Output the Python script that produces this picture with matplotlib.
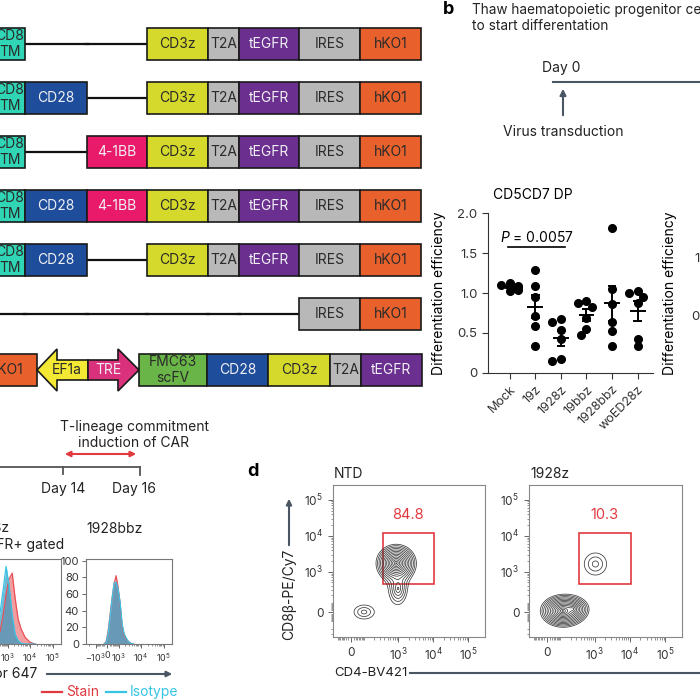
import numpy as np
import matplotlib
matplotlib.use('Agg')
import matplotlib.pyplot as plt
from matplotlib.patches import Rectangle, Polygon

plt.rcParams['font.family'] = ['Inter', 'DejaVu Sans']
plt.rcParams['mathtext.fontset'] = 'custom'
plt.rcParams['mathtext.rm'] = 'Inter'
plt.rcParams['mathtext.it'] = 'Inter:italic'

# ---------------- data ----------------
# panel a: CAR constructs (None = linker line)
constructs = [
    ['CD8\nTM', None, None, 'CD3z', 'T2A', 'tEGFR', 'IRES', 'hKO1'],
    ['CD8\nTM', 'CD28', None, 'CD3z', 'T2A', 'tEGFR', 'IRES', 'hKO1'],
    ['CD8\nTM', None, '4-1BB', 'CD3z', 'T2A', 'tEGFR', 'IRES', 'hKO1'],
    ['CD8\nTM', 'CD28', '4-1BB', 'CD3z', 'T2A', 'tEGFR', 'IRES', 'hKO1'],
    ['CD8\nTM', 'CD28', None, 'CD3z', 'T2A', 'tEGFR', 'IRES', 'hKO1'],
    [None, None, None, None, None, None, 'IRES', 'hKO1'],
]
tet_construct = ['hKO1', 'EF1a', 'TRE', 'FMC63\nscFV', 'CD28', 'CD3z', 'T2A', 'tEGFR']

# panel c: differentiation efficiency, CD5CD7 DP
groups = ['Mock', '19z', '1928z', '19bbz', '1928bbz', 'woED28z']
eff = [
    [1.02, 1.05, 1.08, 1.10, 1.12, 1.04, 1.09],
    [1.29, 1.09, 0.95, 0.71, 0.59, 0.34],
    [0.64, 0.67, 0.54, 0.42, 0.15, 0.18],
    [0.88, 0.90, 0.83, 0.69, 0.55, 0.48],
    [1.81, 1.05, 0.86, 0.64, 0.52, 0.34],
    [1.00, 1.03, 0.95, 0.88, 0.43, 0.34],
]
p_text = '$P$ = 0.0057'

# histograms (Alexa Fluor 647, % of max)
hist_r_x = [-213, -70, 70, 213, 365, 530, 715, 930, 1190, 1490, 1870, 2330, 2890, 3590, 4900]
stain_r = [0, 3, 15, 35, 55, 72, 82, 68, 48, 22, 10, 6, 3, 1, 0]
iso_r = [0, 2, 13, 33, 55, 73, 74, 66, 50, 24, 12, 7, 3, 1, 0]
hist_l_x = [-445, -70, 288, 531, 822, 1189, 1680, 2288, 3120, 4235, 6340, 10480, 17290]
stain_l = [2, 5, 15, 35, 60, 78, 85, 55, 30, 18, 8, 2, 0]
iso_l = [5, 15, 38, 65, 93, 70, 35, 12, 4, 1, 0, 0, 0]

# panel d: populations (centre CD4, centre CD8b, spread x, spread y, weight)
ntd_pops = [(880, 1750, 27, 42, 1.0), (1000, 330, 30, 85, 0.07), (88, 0, 65, 75, 0.03)]
z1928_pops = [(110, 10, 30, 36, 1.0), (230, 30, 25, 30, 0.3), (1060, 1660, 72, 119, 0.03)]
gate = (367, 451, 10600, 12000)
gate_pct = ['84.8', '10.3']

# ---------------- styles ----------------
fill = {'CD8\nTM': '#2fd5b5', 'CD28': '#1e4d9b', '4-1BB': '#ea1a6a', 'CD3z': '#d5d92c',
        'T2A': '#b9b9b9', 'tEGFR': '#6b2f90', 'IRES': '#b8b8b8', 'hKO1': '#e8612c',
        'FMC63\nscFV': '#6ab548', 'EF1a': '#f3e833', 'TRE': '#d9317b'}
light_text = {'CD28', '4-1BB', 'tEGFR', 'TRE'}
slot_w = [30, 62, 60, 61, 31, 60, 61, 61]
tet_w = [61, 51, 51, 68, 61, 62, 31, 61]
RED = '#e03a3f'
CYAN = '#38c4e4'
DARK = '#4a5664'

fig = plt.figure(figsize=(7, 7), dpi=100)
W = H = 700


def px_axes(l, t, r, b):
    return fig.add_axes([l / W, 1 - b / H, (r - l) / W, (b - t) / H])


ov = px_axes(0, 0, 700, 700)
ov.set_xlim(0, 700)
ov.set_ylim(700, 0)
ov.axis('off')


def box(x, yc, w, name):
    ov.add_patch(Rectangle((x, yc - 16), w, 32, fc=fill[name], ec='#1a1a1a', lw=1.2, zorder=3))
    tc = '#f0f0f4' if name in light_text else '#2a2a2a'
    ov.text(x + w / 2, yc, name, ha='center', va='center', fontsize=10, color=tc,
            linespacing=1.2, zorder=4)


for i, parts in enumerate(constructs):
    yc = 44 + 54 * i
    x = 421 - sum(slot_w)
    for name, w in zip(parts, slot_w):
        if name is None:
            ov.plot([x - 1, x + w + 1], [yc, yc], color='#111', lw=1.6, zorder=2)
        else:
            box(x, yc, w, name)
        x += w

yc = 44 + 54 * 6 + 2
x = 422 - sum(tet_w)
for name, w in zip(tet_construct, tet_w):
    if name == 'EF1a':
        pts = [(x, yc), (x + 20, yc - 21), (x + 20, yc - 10), (x + w, yc - 10),
               (x + w, yc + 10), (x + 20, yc + 10), (x + 20, yc + 21)]
        ov.add_patch(Polygon(pts, fc=fill[name], ec='#1a1a1a', lw=1.2, zorder=3))
        ov.text(x + 30, yc, name, ha='center', va='center', fontsize=10, color='#2a2a2a', zorder=4)
    elif name == 'TRE':
        pts = [(x, yc - 10), (x + w - 21, yc - 10), (x + w - 21, yc - 21), (x + w, yc),
               (x + w - 21, yc + 21), (x + w - 21, yc + 10), (x, yc + 10)]
        ov.add_patch(Polygon(pts, fc=fill[name], ec='#1a1a1a', lw=1.2, zorder=3))
        ov.text(x + 20, yc, name, ha='center', va='center', fontsize=10, color='#f0f0f4', zorder=4)
    else:
        box(x, yc, w, name)
    x += w

# ---------------- panel b ----------------
ov.text(443, 9, 'b', fontsize=13, fontweight='bold', va='center')
ov.text(472, 10, 'Thaw haematopoietic progenitor cells', fontsize=9.8, va='center', color='#222')
ov.text(472, 26, 'to start differentation', fontsize=9.8, va='center', color='#222')
ov.text(561, 68, 'Day 0', fontsize=10, ha='center', va='center', color='#222')
ov.plot([553, 710], [82, 82], color=DARK, lw=1.5)
ov.annotate('', xy=(563, 86), xytext=(563, 118),
            arrowprops=dict(arrowstyle='-|>', color=DARK, lw=1.5, mutation_scale=9))
ov.text(563, 132, 'Virus transduction', fontsize=10, ha='center', va='center', color='#222')

# ---------------- panel c ----------------


def swarm(vals, sx=25.5, sy=80, d=7.0):
    order = np.argsort(vals)[::-1]
    placed = []
    xs = np.zeros(len(vals))
    for i in order:
        for off in [0, -0.2, 0.2, -0.34, 0.34]:
            if all(((off - xo) * sx) ** 2 + ((vals[i] - yo) * sy) ** 2 >= d * d for xo, yo in placed):
                break
        xs[i] = off
        placed.append((off, vals[i]))
    return xs


def style_dot_axes(ax, top):
    ax.set_ylim(0, top)
    ax.set_xlim(-0.85, 5.6)
    for s in ['top', 'right']:
        ax.spines[s].set_visible(False)
    for s in ['left', 'bottom']:
        ax.spines[s].set_color('#333')
    ax.set_ylabel('Differentiation efficiency', fontsize=10)
    ax.tick_params(colors='#333', length=4, labelcolor='#333')
    ax.patch.set_alpha(0)


dp = px_axes(488, 213, 653, 373)
style_dot_axes(dp, 2.0)
dp.set_yticks([0, 0.5, 1.0, 1.5, 2.0])
dp.set_yticklabels(['0', '0.5', '1.0', '1.5', '2.0'], fontsize=9.5)
dp.yaxis.set_label_coords(-0.255, 0.5)
for k, vals in enumerate(eff):
    vals = np.array(vals)
    dp.plot(k + swarm(vals), vals, 'o', color='black', ms=5.5, clip_on=False, zorder=3)
    m = vals.mean()
    se = vals.std(ddof=1) / np.sqrt(len(vals))
    dp.plot([k - 0.27, k + 0.27], [m, m], color='black', lw=1.4, zorder=4)
    dp.plot([k, k], [m - se, m + se], color='black', lw=1.4, zorder=4)
    for v in (m - se, m + se):
        dp.plot([k - 0.13, k + 0.13], [v, v], color='black', lw=1.4, zorder=4)
dp.set_xticks(range(len(groups)))
dp.set_xticklabels(groups, rotation=45, ha='right', rotation_mode='anchor', fontsize=9)
dp.plot([-0.08, 2.16], [1.57, 1.57], color='black', lw=1.2)
dp.text(1.06, 1.6, p_text, ha='center', va='bottom', fontsize=10)
dp.set_title('CD5CD7 DP', fontsize=10, loc='left', x=0.03, pad=10)

# neighbouring panel, cut off at the figure edge
dp2 = px_axes(722, 213, 880, 373)
style_dot_axes(dp2, 1.39)
dp2.set_yticks([0, 0.5, 1.0])
dp2.set_yticklabels(['0', '0.5', '1.0'], fontsize=9.5)
dp2.set_xticks([])
dp2.yaxis.set_label_coords(-0.285, 0.5)

# ---------------- timeline bottom left ----------------
ov.text(134, 427, 'T-lineage commitment', fontsize=10, ha='center', va='center', color='#222')
ov.text(134, 443, 'induction of CAR', fontsize=10, ha='center', va='center', color='#222')
ov.annotate('', xy=(62, 454), xytext=(139, 454),
            arrowprops=dict(arrowstyle='<|-|>', color=RED, lw=1.5, mutation_scale=8))
ov.plot([-5, 140], [467, 467], color='#555', lw=1.3)
ov.plot([63, 63], [467, 474], color='#555', lw=1.3)
ov.plot([140, 140], [467, 475], color='#555', lw=1.3)
ov.text(63, 489, 'Day 14', fontsize=10, ha='center', va='center', color='#222')
ov.text(134, 489, 'Day 16', fontsize=10, ha='center', va='center', color='#222')

# ---------------- histograms ----------------
hx_ticks = [-1e3, 0, 1e3, 1e4, 1e5]
hx_labels = ['$-10^3$', '0', '$10^3$', '$10^4$', '$10^5$']
minor = [k * 10 ** d for d in (2, 3, 4) for k in range(2, 10)]
minor = [-m for m in minor if m < 3000] + minor


def style_hist(ax, ylabels):
    ax.set_xscale('asinh', linear_width=700)
    ax.set_xlim(-2850, 2.3e5)
    ax.set_ylim(0, 102)
    ax.set_xticks(hx_ticks)
    ax.set_xticklabels(hx_labels, fontsize=6.5)
    ax.set_xticks(minor, minor=True)
    ax.set_yticks(range(0, 101, 20))
    if ylabels:
        ax.set_yticklabels([str(v) for v in range(0, 101, 20)], fontsize=8)
    else:
        ax.set_yticklabels([])
    ax.tick_params(length=3, width=0.7, colors='#666', labelcolor='#333', pad=2)
    ax.tick_params(which='minor', length=1.5, width=0.5, colors='#666')
    for s in ax.spines.values():
        s.set_color('#777')
        s.set_linewidth(0.8)


for l, r, xs, st, iso, labs in [(-25, 61, hist_l_x, stain_l, iso_l, False),
                                (86, 172, hist_r_x, stain_r, iso_r, True)]:
    ax = px_axes(l, 559, r, 644)
    style_hist(ax, labs)
    ax.fill_between(xs, st, color='#ec6b6e', alpha=0.65, lw=0)
    ax.plot(xs, st, color='#e8505a', lw=0.9)
    ax.fill_between(xs, iso, color='#1e98c4', alpha=0.65, lw=0)
    ax.plot(xs, iso, color=CYAN, lw=0.9)

ov.text(-30, 528, '1928z', fontsize=10, va='center', color='#222')
ov.text(-27, 545, 'tEGFR+ gated', fontsize=10, va='center', color='#222')
ov.text(86, 529, '1928bbz', fontsize=10, va='center', color='#222')
ov.text(37, 674, 'Alexa Fluor 647', fontsize=10, ha='right', va='center', color='#222')
ov.annotate('', xy=(175, 674), xytext=(44, 674),
            arrowprops=dict(arrowstyle='-|>', color=DARK, lw=1.5, mutation_scale=8))
ov.plot([42, 62], [692, 692], color=RED, lw=1.6)
ov.text(66, 692, 'Stain', fontsize=10, va='center', color=RED)
ov.plot([106, 126], [692, 692], color=CYAN, lw=1.6)
ov.text(130, 692, 'Isotype', fontsize=10, va='center', color=CYAN)

# ---------------- panel d ----------------
cx, cy = 91, 155
dec_ticks = [0, 1e3, 1e4, 1e5]
dec_labels = ['0', '$10^3$', '$10^4$', '$10^5$']
cminor = [k * 10 ** d for d in (1, 2, 3, 4) for k in range(2, 10)]
cminor_x = [-m for m in cminor if m < 130] + cminor
cminor_y = [-m for m in cminor if m < 360] + cminor


def density(pops):
    tx = np.linspace(cx * np.arcsinh(-134 / cx), cx * np.arcsinh(3.0e5 / cx), 500)
    ty = np.linspace(cy * np.arcsinh(-366 / cy), cy * np.arcsinh(2.58e5 / cy), 500)
    TX, TY = np.meshgrid(tx, ty)
    Z = np.zeros_like(TX)
    for px_, py_, sx, sy, w in pops:
        mx = cx * np.arcsinh(px_ / cx)
        my = cy * np.arcsinh(py_ / cy)
        Z += w * np.exp(-np.sqrt((TX - mx) ** 2 / sx ** 2 + (TY - my) ** 2 / sy ** 2))
    return cx * np.sinh(TX / cx), cy * np.sinh(TY / cy), Z


for l, r, pops, pct, title in [(333, 485, ntd_pops, gate_pct[0], 'NTD'),
                               (529, 682, z1928_pops, gate_pct[1], '1928z')]:
    ax = px_axes(l, 485, r, 637)
    ax.set_xscale('asinh', linear_width=cx)
    ax.set_yscale('asinh', linear_width=cy)
    ax.set_xlim(-134, 3.0e5)
    ax.set_ylim(-366, 2.58e5)
    X, Y, Z = density(pops)
    ax.contour(X, Y, Z, levels=np.geomspace(0.012, 0.9, 14), colors='#3a3a3a', linewidths=0.55)
    g0x, g0y, g1x, g1y = gate
    ax.add_patch(Rectangle((g0x, g0y), g1x - g0x, g1y - g0y, fill=False, ec=RED, lw=1.2))
    ax.text(0.49, 0.80, pct, transform=ax.transAxes, ha='center', va='center',
            fontsize=10.5, color=RED)
    ax.set_xticks(dec_ticks)
    ax.set_xticklabels(dec_labels, fontsize=8.5)
    ax.set_yticks(dec_ticks)
    ax.set_yticklabels(dec_labels, fontsize=8.5)
    ax.set_xticks(cminor_x, minor=True)
    ax.set_yticks(cminor_y, minor=True)
    ax.tick_params(length=3.5, width=0.7, colors='#666', labelcolor='#333')
    ax.tick_params(which='minor', length=1.8, width=0.5, colors='#666')
    for s in ax.spines.values():
        s.set_color('#888')
        s.set_linewidth(0.8)
    ov.text(l + 1, 474, title, fontsize=10, va='center', color='#222')

ov.text(253, 472, 'd', fontsize=13, fontweight='bold', ha='center', va='center')
ov.annotate('', xy=(289, 496), xytext=(289, 548),
            arrowprops=dict(arrowstyle='-|>', color=DARK, lw=1.5, mutation_scale=8))
ov.text(289, 594, 'CD8β-PE/Cy7', fontsize=10, rotation=90, ha='center', va='center', color='#222')
ov.text(334, 673, 'CD4-BV421', fontsize=9.5, va='center', color='#222')
ov.plot([410, 710], [673, 673], color=DARK, lw=1.5)

fig.savefig('out.png', dpi=100)
